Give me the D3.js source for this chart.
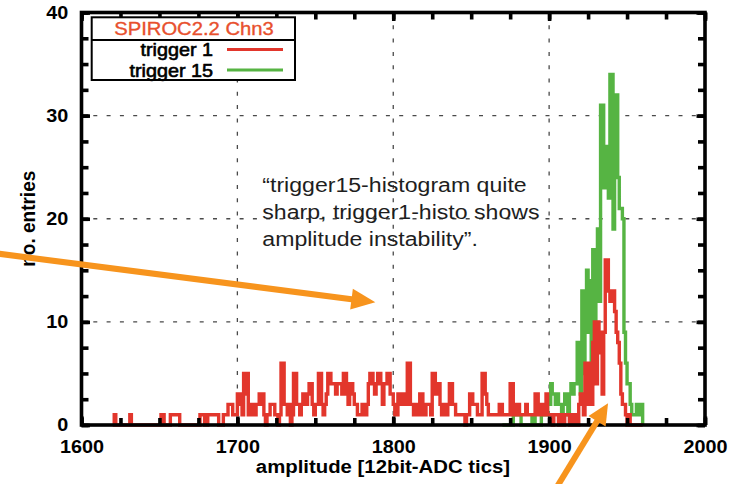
<!DOCTYPE html>
<html>
<head>
<meta charset="utf-8">
<script src="https://cdn.jsdelivr.net/npm/d3@7"></script>
<style>
  html, body { margin: 0; padding: 0; background: #fff; }
  svg { display: block; }
</style>
</head>
<body>
<svg id="chart" width="744" height="484"></svg>
<script>
// Histogram contents: one bin per ADC tic, the first bin starts at *Start.
const trigger1Start = 1620;
const trigger1Counts = [
  0,1,0,0,0,0,0,0,0,0, 0,1,0,0,0,0,0,0,0,0,   // 1620
  0,0,0,0,0,0,0,0,0,0, 0,1,1,0,0,0,0,1,1,1,   // 1640
  1,1,1,0,0,0,0,0,0,0, 0,0,0,0,0,0,1,1,1,0,   // 1660
  0,1,1,1,1,1,1,1,0,0, 0,1,1,1,2,2,2,1,1,1,   // 1680
  3,2,3,1,5,3,5,1,1,2, 2,1,2,2,3,2,3,1,0,1,   // 1700
  1,2,2,2,1,1,0,1,6,6, 2,2,1,2,0,1,5,5,2,2,   // 1720
  1,2,3,3,2,3,4,4,2,1, 2,2,5,5,2,1,2,3,5,5,   // 1740
  4,4,4,3,4,4,4,3,5,5, 3,2,4,4,3,2,2,1,1,1,   // 1760
  2,1,1,2,4,5,5,4,3,4, 5,5,4,2,4,4,5,5,3,3,   // 1780
  2,1,1,3,3,2,3,3,2,6, 6,2,2,1,2,1,1,3,3,1,   // 1800
  1,2,2,2,1,5,5,3,4,4, 2,1,2,1,1,2,4,4,2,2,   // 1820
  1,1,1,1,1,1,0,1,1,3, 3,2,2,2,1,1,1,5,5,3,   // 1840
  2,1,1,1,1,1,1,1,2,2, 1,1,1,1,1,4,4,1,2,1,   // 1860
  2,1,1,1,1,2,1,1,1,1, 1,3,3,1,2,1,1,2,3,1,   // 1880
  1,1,0,1,1,1,0,1,1,0, 1,1,1,0,1,0,1,1,0,2,   // 1900
  3,2,1,6,2,6,4,2,8,10, 4,10,7,9,3,9,16,16,13,12, // 1920
  12,13,11,9,8,6,3,2,2,1, 0,1,0,0,0,0,0,0,0,0  // 1940
];

const trigger15Start = 1870;
const trigger15Counts = [
  0,0,0,0,0,0,0,1,1,1,        // 1870
  1,1,0,0,0,0,0,0,0,1,        // 1880
  1,0,0,0,0,1,1,1,1,2,        // 1890
  2,4,3,3,2,3,2,2,1,2,        // 1900
  3,2,1,3,4,3,4,4,8,8,        // 1910
  3,13,5,13,15,9,14,4,17,10,  // 1920
  17,19,12,31,31,23,27,27,22,34, // 1930
  34,19,32,32,24,21,21,20,9,6,  // 1940
  4,4,2,1,1,1,2,1,2,2           // 1950
];

const xDomain = [1600, 2000];
const yDomain = [0, 40];
const xTicks = [1600, 1700, 1800, 1900, 2000];
const yTicks = [0, 10, 20, 30, 40];
const xMinorStep = 25;
const yMinorStep = 2.5;

const legendTitle = "SPIROC2.2 Chn3";
const seriesNames = ["trigger 1", "trigger 15"];
const seriesColors = ["#e2362c", "#56b443"];
const xTitle = "amplitude [12bit-ADC tics]";
const yTitle = "no. entries";
const noteLines = [
  "\u201ctrigger15-histogram quite",
  "sharp, trigger1-histo shows",
  "amplitude instability\u201d."
];

// ---------------------------------------------------------------
const FONT = '"Liberation Sans", Arial, Helvetica, sans-serif';
const STRETCH = 1.1;           // the chart's lettering is set slightly wide
const svg = d3.select("#chart");

const x = d3.scaleLinear().domain(xDomain).range([81.5, 705]);
const y = d3.scaleLinear().domain(yDomain).range([425, 12.5]);

// dashed grid at the major ticks
const grid = svg.append("g")
  .attr("stroke", "#4a4a4a")
  .attr("stroke-width", 1.3)
  .attr("stroke-dasharray", "4 9.3")
  .attr("fill", "none");
grid.selectAll("line.gx").data(xTicks.slice(1, -1)).join("line")
  .attr("class", "gx")
  .attr("x1", d => x(d)).attr("x2", d => x(d))
  .attr("y1", y(0)).attr("y2", y(40))
  .attr("stroke-dashoffset", -10);
grid.selectAll("line.gy").data(yTicks.slice(1, -1)).join("line")
  .attr("class", "gy")
  .attr("x1", x(1600)).attr("x2", x(2000))
  .attr("y1", d => y(d)).attr("y2", d => y(d))
  .attr("stroke-dashoffset", 1.5);

// step histograms
const stepLine = d3.line()
  .x(d => x(d[0]))
  .y(d => y(d[1]))
  .curve(d3.curveStepAfter);

function stepPoints(start, counts) {
  return [[start, 0], ...counts.map((c, i) => [start + i, c]), [start + counts.length, 0]];
}

const series = [
  { start: trigger15Start, counts: trigger15Counts, color: seriesColors[1] },
  { start: trigger1Start, counts: trigger1Counts, color: seriesColors[0] }
];
svg.append("g").selectAll("path").data(series).join("path")
  .attr("d", s => stepLine(stepPoints(s.start, s.counts)))
  .attr("fill", "none")
  .attr("stroke", s => s.color)
  .attr("stroke-width", 3.4)
  .attr("stroke-linejoin", "miter");

// frame with inward ticks on all four sides
const xMinor = d3.range(xDomain[0], xDomain[1] + 0.01, xMinorStep);
const yMinor = d3.range(yDomain[0], yDomain[1] + 0.01, yMinorStep);

function tickAxis(axisFn, scale, values, size, transform) {
  const g = svg.append("g")
    .attr("transform", transform)
    .call(axisFn(scale).tickValues(values).tickSize(-size).tickFormat(""));
  g.select(".domain").remove();
  g.selectAll(".tick line").attr("stroke", "#000").attr("stroke-width", 3.6);
  return g;
}
[[xMinor, 7], [xTicks, 8.5]].forEach(([vals, s]) => {
  tickAxis(d3.axisBottom, x, vals, s, `translate(0,${y(0)})`);
  tickAxis(d3.axisTop, x, vals, s, `translate(0,${y(40)})`);
});
[[yMinor, 7], [yTicks, 8.5]].forEach(([vals, s]) => {
  tickAxis(d3.axisLeft, y, vals, s, `translate(${x(1600)},0)`);
  tickAxis(d3.axisRight, y, vals, s, `translate(${x(2000)},0)`);
});

svg.append("rect")
  .attr("x", x(1600)).attr("y", y(40))
  .attr("width", x(2000) - x(1600)).attr("height", y(0) - y(40))
  .attr("fill", "none").attr("stroke", "#000").attr("stroke-width", 3.6);

// tick labels
const xLab = svg.append("g")
  .attr("transform", `translate(0,${y(0)})`)
  .call(d3.axisBottom(x).tickValues(xTicks).tickSize(0).tickPadding(15).tickFormat(d3.format("d")));
xLab.select(".domain").remove();
xLab.attr("font-family", FONT).attr("font-size", 18).attr("font-weight", "bold");
xLab.selectAll("text").attr("fill", "#000").attr("transform", `scale(${STRETCH},1)`);

const yLab = svg.append("g")
  .attr("transform", `translate(${x(1600)},0)`)
  .call(d3.axisLeft(y).tickValues(yTicks).tickSize(0).tickPadding(12).tickFormat(d3.format("d")));
yLab.select(".domain").remove();
yLab.attr("font-family", FONT).attr("font-size", 18).attr("font-weight", "bold");
yLab.selectAll("text").attr("fill", "#000").attr("transform", `scale(${STRETCH},1)`);

// text helper: horizontally widened lettering, optional rotation and stroke weight
function wideText(px, py, str, opts) {
  const t = svg.append("text")
    .attr("transform", `translate(${px},${py}) scale(${STRETCH},1)` + (opts.rotate ? ` rotate(${opts.rotate})` : ""))
    .attr("font-family", FONT)
    .attr("font-size", opts.size)
    .attr("font-weight", opts.weight || "normal")
    .attr("fill", opts.fill || "#000")
    .attr("text-anchor", opts.anchor || "start")
    .text(str);
  if (opts.heavy) {
    t.attr("stroke", opts.fill || "#000").attr("stroke-width", opts.heavy).attr("stroke-linejoin", "round");
  }
  return t;
}

// axis titles
wideText(383, 473, xTitle, { size: 18.5, weight: "bold", anchor: "middle" });
wideText(35, (y(0) + y(40)) / 2, yTitle, { size: 19, weight: "bold", anchor: "middle", rotate: -90 });

// legend
const lg = svg.append("g");
lg.append("rect")
  .attr("x", 91.7).attr("y", 17.3).attr("width", 203.3).attr("height", 62.7)
  .attr("fill", "#fff").attr("stroke", "#000").attr("stroke-width", 2);
lg.append("line")
  .attr("x1", 91.7).attr("x2", 295).attr("y1", 40).attr("y2", 40)
  .attr("stroke", "#000").attr("stroke-width", 2);
wideText(194, 35, legendTitle, { size: 18.4, anchor: "middle", fill: "#e8502d", heavy: 0.35 });
seriesNames.forEach((name, i) => {
  const ly = 49.5 + i * 20.5;
  wideText(213, ly + 6.5, name, { size: 18, anchor: "end", heavy: 0.6 });
  lg.append("line")
    .attr("x1", 227).attr("x2", 283).attr("y1", ly).attr("y2", ly)
    .attr("stroke", seriesColors[i]).attr("stroke-width", 2.8);
});

// note text
noteLines.forEach((line, i) => {
  wideText(x(1716), y(22.6 - i * 2.6), line, { size: 21, fill: "#1e1e1e" });
});

// arrows
function arrow(x1, y1, x2, y2, headLen, headHalf, width) {
  const dx = x2 - x1, dy = y2 - y1, L = Math.hypot(dx, dy);
  const ux = dx / L, uy = dy / L;
  const bx = x2 - ux * headLen, by = y2 - uy * headLen;
  const g = svg.append("g").attr("fill", "#f7941d").attr("stroke", "#f7941d");
  g.append("line")
    .attr("x1", x1).attr("y1", y1).attr("x2", bx + ux * 2).attr("y2", by + uy * 2)
    .attr("stroke-width", width);
  g.append("path")
    .attr("stroke", "none")
    .attr("d", d3.line()([[x2, y2], [bx - uy * headHalf, by + ux * headHalf], [bx + uy * headHalf, by - ux * headHalf]]) + "Z");
}
arrow(x(1547.5), y(16.6), x(1788.5), y(11.9), 24, 10.5, 6);
arrow(x(1903), y(-6.5), x(1937.8), y(2.1), 21, 10, 6);
</script>
</body>
</html>
